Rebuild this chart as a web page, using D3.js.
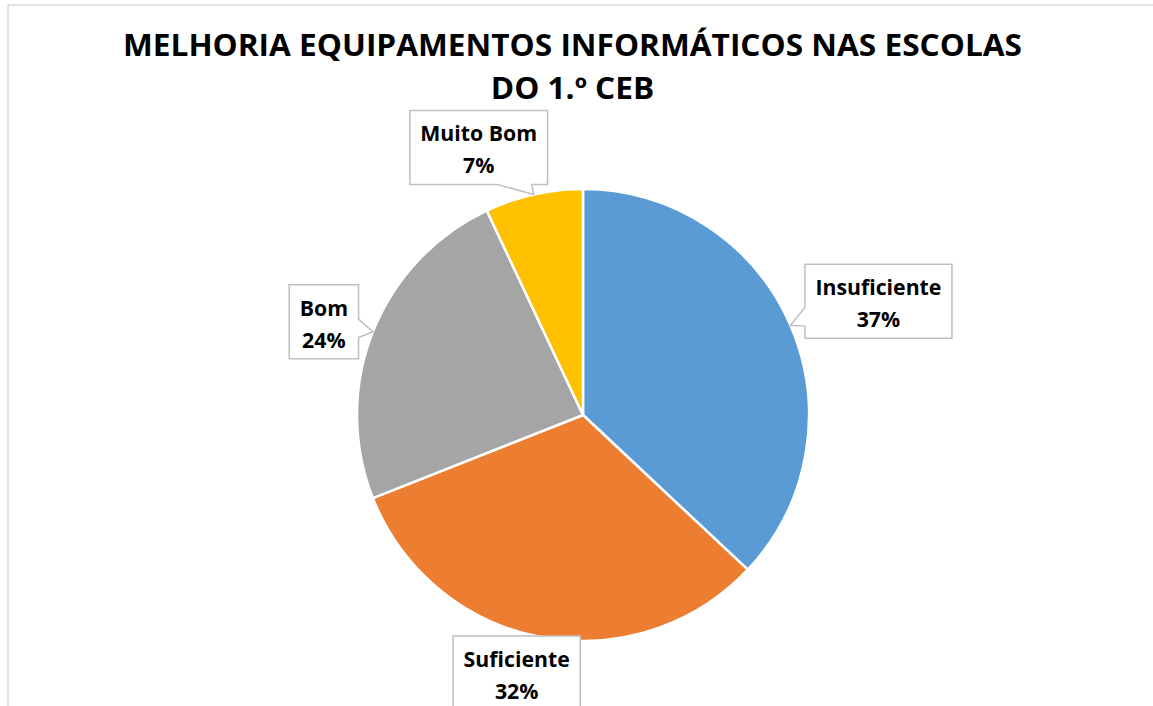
<!DOCTYPE html>
<html>
<head>
<meta charset="utf-8">
<script src="https://cdn.jsdelivr.net/npm/d3@7"></script>
<style>
  html, body { margin: 0; padding: 0; background: #fff; overflow: hidden; }
  svg { display: block; }
</style>
</head>
<body>
<svg id="chart" width="1153" height="706"></svg>
<script>
// ---- data ----
const categories = ["Insuficiente", "Suficiente", "Bom", "Muito Bom"];
const values = [37, 32, 24, 7];
const colors = ["#5B9BD5", "#ED7D31", "#A5A5A5", "#FFC000"];
const titleLines = ["MELHORIA EQUIPAMENTOS INFORMÁTICOS NAS ESCOLAS", "DO 1.º CEB"];

// ---- layout (styling, not data) ----
const W = 1153, H = 706;
const cx = 583, cy = 415, R = 226;
const FONT = "'Open Sans', sans-serif";
const WEIGHT = 700;
// label box center offset relative to the slice's outer mid point
const labelOffsets = [[88, -24], [-24, 36], [-49, -10], [-55, -47]];
const boxH = 74, boxPad = 10.5;

const svg = d3.select("#chart");

// outer frame (only top and left edges visible in the crop)
svg.append("rect")
  .attr("x", 8).attr("y", 5).attr("width", 1400).attr("height", 1000)
  .attr("fill", "none").attr("stroke", "#d9d9d9").attr("stroke-width", 1.5);

// ---- title ----
const titleG = svg.append("g");
const tLine1 = titleG.append("text")
  .attr("x", 572.5).attr("y", 56)
  .attr("text-anchor", "middle")
  .style("font-family", FONT).style("font-weight", WEIGHT).style("font-size", "30px")
  .attr("fill", "#000").text(titleLines[0]);
const natural = tLine1.node().getComputedTextLength();
const fit = 899 / natural;
tLine1.attr("textLength", natural * fit).attr("lengthAdjust", "spacingAndGlyphs");

const tLine2 = titleG.append("text")
  .attr("x", 572.5).attr("y", 99)
  .attr("text-anchor", "middle")
  .style("font-family", FONT).style("font-weight", WEIGHT).style("font-size", "30px")
  .attr("fill", "#000").text(titleLines[1]);
const n2 = tLine2.node().getComputedTextLength();
tLine2.attr("textLength", n2 * fit).attr("lengthAdjust", "spacingAndGlyphs");

// ---- pie ----
const data = categories.map((c, i) => ({ cat: c, value: values[i], color: colors[i], i }));
const total = d3.sum(values);
const pie = d3.pie().sort(null).value(d => d.value);
const arcs = pie(data);
const arc = d3.arc().innerRadius(0).outerRadius(R);

const g = svg.append("g").attr("transform", `translate(${cx},${cy})`);
g.selectAll("path.slice").data(arcs).join("path")
  .attr("class", "slice")
  .attr("d", arc)
  .attr("fill", d => d.data.color)
  .attr("stroke", "#fff")
  .attr("stroke-width", 2.5)
  .attr("stroke-linejoin", "round");

// ---- callout labels ----
const pct = d3.format(".0%");
const labelG = svg.append("g");

// calibrate label width scale against the widest label in the reference
const probe = svg.append("text")
  .style("font-family", FONT).style("font-weight", WEIGHT).style("font-size", "21px")
  .text(categories[0]);
const lfit = 126 / probe.node().getComputedTextLength();
probe.remove();

arcs.forEach((a, k) => {
  const mid = (a.startAngle + a.endAngle) / 2;
  const tip = [cx + R * Math.sin(mid), cy - R * Math.cos(mid)];
  const off = labelOffsets[k];
  const bc = [tip[0] + off[0], tip[1] + off[1]];

  const grp = labelG.append("g");
  const t1 = grp.append("text")
    .attr("x", bc[0]).attr("text-anchor", "middle")
    .style("font-family", FONT).style("font-weight", WEIGHT).style("font-size", "21px")
    .attr("fill", "#000").text(a.data.cat);
  const t2 = grp.append("text")
    .attr("x", bc[0]).attr("text-anchor", "middle")
    .style("font-family", FONT).style("font-weight", WEIGHT).style("font-size", "21px")
    .attr("fill", "#000").text(pct(a.data.value / total));
  const w1 = t1.node().getComputedTextLength() * lfit;
  const w2 = t2.node().getComputedTextLength() * lfit;
  t1.attr("textLength", w1).attr("lengthAdjust", "spacingAndGlyphs");
  t2.attr("textLength", w2).attr("lengthAdjust", "spacingAndGlyphs");
  const bw = Math.max(w1, w2) + 2 * boxPad;
  const left = bc[0] - bw / 2, right = bc[0] + bw / 2;
  const top = bc[1] - boxH / 2, bottom = bc[1] + boxH / 2;
  t1.attr("y", top + 31);
  t2.attr("y", top + 63);

  // build callout path
  const t = 0.65, frac = 0.25;
  let p;
  const clamp = (v, lo, hi) => Math.max(lo, Math.min(hi, v));
  if (tip[1] > bottom) {
    const hw = bw * frac / 2;
    const c = clamp(bc[0] + (tip[0] - bc[0]) * t, left + hw, right - hw);
    p = `M${left},${top}H${right}V${bottom}H${c + hw}L${tip[0]},${tip[1]}L${c - hw},${bottom}H${left}Z`;
  } else if (tip[1] < top) {
    const hw = bw * frac / 2;
    const c = clamp(bc[0] + (tip[0] - bc[0]) * t, left + hw, right - hw);
    p = `M${left},${top}H${c - hw}L${tip[0]},${tip[1]}L${c + hw},${top}H${right}V${bottom}H${left}Z`;
  } else if (tip[0] < left) {
    const hw = boxH * frac / 2;
    const c = clamp(bc[1] + (tip[1] - bc[1]) * t, top + hw, bottom - hw);
    p = `M${left},${top}H${right}V${bottom}H${left}V${c + hw}L${tip[0]},${tip[1]}L${left},${c - hw}Z`;
  } else if (tip[0] > right) {
    const hw = boxH * frac / 2;
    const c = clamp(bc[1] + (tip[1] - bc[1]) * t, top + hw, bottom - hw);
    p = `M${left},${top}H${right}V${c - hw}L${tip[0]},${tip[1]}L${right},${c + hw}V${bottom}H${left}Z`;
  } else {
    p = `M${left},${top}H${right}V${bottom}H${left}Z`;
  }
  grp.insert("path", "text")
    .attr("d", p)
    .attr("fill", "#fff")
    .attr("stroke", "#bfbfbf")
    .attr("stroke-width", 1.5)
    .attr("stroke-linejoin", "miter");
});
</script>
</body>
</html>
